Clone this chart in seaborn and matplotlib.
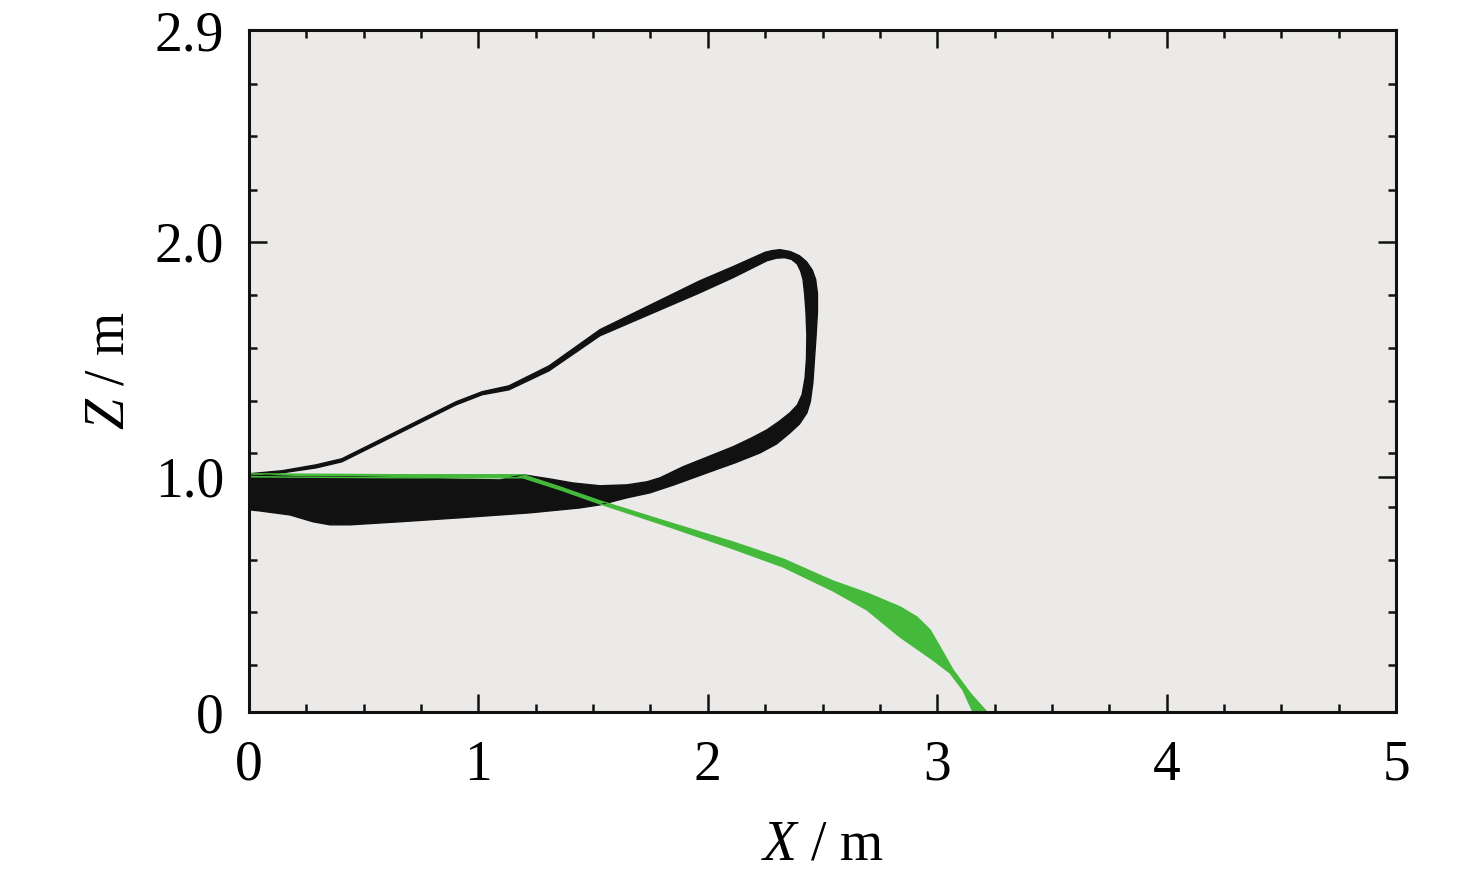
import matplotlib
matplotlib.use("Agg")
import matplotlib.pyplot as plt
import seaborn as sns

# black trajectory bundle: outer boundary (bottom edge -> right side -> top edge of thin return line)
black_outer_x = [0.0, 0.048, 0.179, 0.279, 0.353, 0.440, 0.658, 0.920, 1.225, 1.443, 1.530, 1.648,
                 1.748, 1.850, 1.997, 2.120, 2.228, 2.300, 2.358, 2.400, 2.432, 2.447, 2.458, 2.465,
                 2.472, 2.478, 2.478, 2.470, 2.455, 2.430, 2.400, 2.360, 2.315, 2.280, 2.250, 2.110,
                 1.966, 1.530, 1.308, 1.133, 1.016, 0.902, 0.754, 0.580, 0.405, 0.292, 0.144, 0.044,
                 0.0]
black_outer_z = [0.860, 0.855, 0.838, 0.809, 0.796, 0.796, 0.809, 0.826, 0.847, 0.868, 0.881, 0.911,
                 0.932, 0.965, 1.017, 1.060, 1.102, 1.140, 1.187, 1.225, 1.272, 1.320, 1.400, 1.500,
                 1.600, 1.700, 1.780, 1.840, 1.880, 1.915, 1.940, 1.958, 1.966, 1.962, 1.955, 1.894,
                 1.834, 1.626, 1.472, 1.387, 1.362, 1.319, 1.247, 1.162, 1.077, 1.051, 1.026, 1.017,
                 1.013]
# inner boundary (lower edge of thin line -> inside of loop -> top of the horizontal band)
black_inner_x = [0.06, 0.144, 0.292, 0.405, 0.580, 0.754, 0.902, 1.016, 1.133, 1.308, 1.530, 1.966,
                 2.110, 2.258, 2.300, 2.335, 2.365, 2.390, 2.405, 2.415, 2.422, 2.428, 2.432, 2.430,
                 2.424, 2.411, 2.390, 2.358, 2.310, 2.258, 2.190, 2.110, 2.000, 1.892, 1.792, 1.735,
                 1.648, 1.530, 1.412, 1.312, 1.194, 1.094, 0.876, 0.658, 0.440, 0.222, 0.06, 0.0]
black_inner_z = [1.008, 1.017, 1.038, 1.064, 1.149, 1.234, 1.306, 1.349, 1.370, 1.451, 1.600, 1.783,
                 1.847, 1.919, 1.930, 1.932, 1.925, 1.905, 1.875, 1.840, 1.780, 1.700, 1.600, 1.500,
                 1.420, 1.349, 1.305, 1.272, 1.235, 1.200, 1.165, 1.128, 1.085, 1.043, 0.996, 0.979,
                 0.966, 0.962, 0.974, 0.991, 1.009, 0.987, 0.991, 0.996, 1.000, 1.000, 1.006, 1.008]

# green trajectory bundle: upper edge left->right, lower edge right->left
green_upper_x = [0.0, 0.658, 1.194, 1.356, 1.530, 1.822, 2.110, 2.328, 2.546, 2.694, 2.838, 2.912,
                 2.969, 3.012, 3.069, 3.143, 3.217]
green_upper_z = [1.013, 1.009, 1.009, 0.957, 0.898, 0.809, 0.723, 0.651, 0.557, 0.506, 0.447, 0.404,
                 0.349, 0.277, 0.179, 0.081, 0.0]
green_lower_x = [3.156, 3.112, 3.056, 2.982, 2.838, 2.694, 2.546, 2.328, 2.110, 1.822, 1.530, 1.356,
                 1.194, 0.658, 0.0]
green_lower_z = [0.0, 0.094, 0.166, 0.221, 0.319, 0.434, 0.515, 0.617, 0.694, 0.791, 0.885, 0.945,
                 0.996, 0.996, 1.000]

x_major = [0, 1, 2, 3, 4, 5]
x_labels = ["0", "1", "2", "3", "4", "5"]
x_minor = [0.25, 0.5, 0.75, 1.25, 1.5, 1.75, 2.25, 2.5, 2.75, 3.25, 3.5, 3.75, 4.25, 4.5, 4.75]
z_major = [0, 1.0, 2.0, 2.9]
z_labels = ["0", "1.0", "2.0", "2.9"]
z_minor = [0.2, 0.426, 0.647, 0.872, 1.102, 1.323, 1.549, 1.774, 2.221, 2.451, 2.672]

sns.set_style("ticks")
plt.rcParams["font.family"] = ["Liberation Serif", "DejaVu Serif"]
plt.rcParams["mathtext.fontset"] = "custom"
plt.rcParams["mathtext.it"] = "Liberation Serif:italic"
plt.rcParams["mathtext.rm"] = "Liberation Serif"
plt.rcParams["text.color"] = "black"
plt.rcParams["axes.labelcolor"] = "black"
plt.rcParams["xtick.color"] = "black"
plt.rcParams["ytick.color"] = "black"

fig = plt.figure(figsize=(14.76, 8.73), dpi=100)
ax = fig.add_axes([0.1687, 0.1844, 0.9458 - 0.1687, 0.9656 - 0.1844])
ax.set_facecolor("#ebeae8")

black = "#111111"
green = "#45b93b"

ax.fill(black_outer_x + black_inner_x, black_outer_z + black_inner_z, color=black, lw=0)
sns.lineplot(x=black_outer_x, y=black_outer_z, sort=False, estimator=None, color=black, lw=1.0, ax=ax)
sns.lineplot(x=black_inner_x, y=black_inner_z, sort=False, estimator=None, color=black, lw=1.0, ax=ax)

ax.fill(green_upper_x + green_lower_x, green_upper_z + green_lower_z, color=green, lw=0)
sns.lineplot(x=green_upper_x, y=green_upper_z, sort=False, estimator=None, color=green, lw=1.0, ax=ax)
sns.lineplot(x=green_lower_x, y=green_lower_z, sort=False, estimator=None, color=green, lw=1.0, ax=ax)

ax.set_xlim(0, 5)
ax.set_ylim(0, 2.9)
ax.set_xticks(x_major)
ax.set_xticklabels(x_labels)
ax.set_xticks(x_minor, minor=True)
ax.set_yticks(z_major)
ax.set_yticklabels(z_labels)
ax.set_yticks(z_minor, minor=True)

ax.tick_params(which="both", direction="in", top=True, right=True, labelsize=40, color="#111111")
ax.tick_params(which="major", length=13, width=1.8)
ax.tick_params(which="minor", length=6, width=1.8)
ax.tick_params(axis="x", which="major", pad=20)
ax.tick_params(axis="y", which="major", pad=18)
for s in ax.spines.values():
    s.set_linewidth(2.2)
    s.set_color("#111111")

ax.set_xlabel(r"$X$ / m", fontsize=40, labelpad=20)
ax.set_ylabel(r"$Z$ / m", fontsize=40, labelpad=14)

fig.savefig("out.png", dpi=100)
